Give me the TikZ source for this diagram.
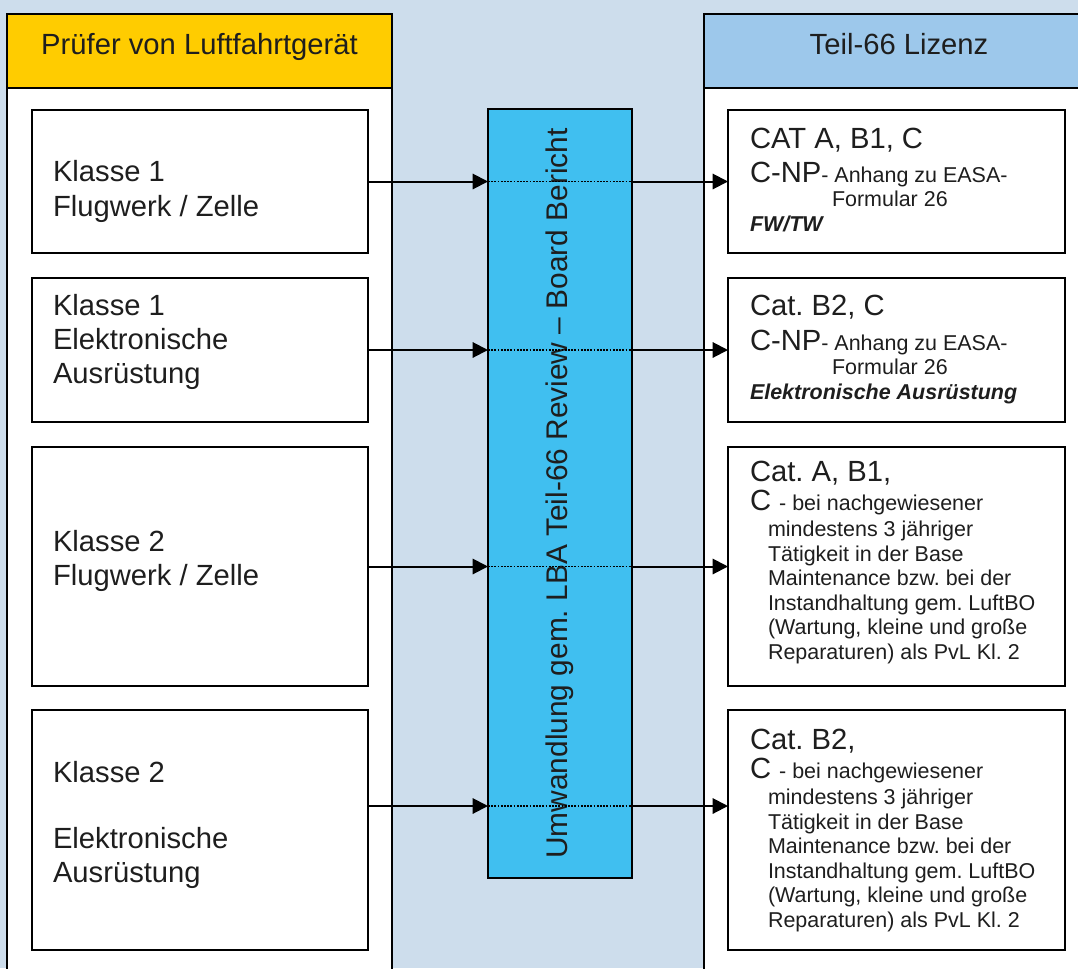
\documentclass[tikz,border=0pt]{standalone}
\usepackage{fontspec}
\setmainfont{Liberation Sans}
\usetikzlibrary{positioning,fit,arrows.meta}
\definecolor{bgblue}{RGB}{205,221,236}
\definecolor{mygold}{RGB}{255,204,0}
\definecolor{headblue}{RGB}{157,200,235}
\definecolor{barblue}{RGB}{64,191,240}
\definecolor{txtgray}{RGB}{30,30,30}
\newcommand{\bigtxt}{\fontsize{21.9}{26}\selectfont}
\newcommand{\bartxt}{\fontsize{22.4}{26}\selectfont}
\newcommand{\smalltxt}{\fontsize{16.1}{18}\selectfont}
\frenchspacing

\begin{document}
\begin{tikzpicture}[x=0.75pt,y=-0.75pt,
	every node/.style={inner sep=0pt,outer sep=0pt,text=txtgray},
	colbox/.style={draw,line width=0.9pt,fill=white},
	headbox/.style={draw,line width=1.1pt},
	classbox/.style={draw,line width=1.4pt,fill=white},
	barbox/.style={draw,line width=1.4pt,fill=barblue},
	bigtext/.style={anchor=base west,font=\bigtxt},
	smalltext/.style={anchor=base west,font=\smalltxt},
	arr/.style={line width=1.5pt,-{Triangle[length=11.5pt,width=11.5pt]}},
	dotline/.style={line width=1.4pt,densely dotted},
	]
	
	\clip (0,0) rectangle (1078,968);
	\fill[bgblue] (0,0) rectangle (1078,968);
	
	% the two columns
	\node[colbox,fit={(7,14) (392,975)}] (lcol) {};
	\node[headbox,fill=mygold,fit={(7,14) (392,88)}] (lhead) {};
	\node[font=\bigtxt,anchor=base] (lheadtxt) at (199.5,54) {Prüfer von Luftfahrtgerät};
	
	\node[colbox,fit={(704,14) (1095,975)}] (rcol) {};
	\node[headbox,fill=headblue,fit={(704,14) (1095,88)}] (rhead) {};
	\node[font=\bigtxt,anchor=base] (rheadtxt) at (899,54) {Teil-66 Lizenz};
	
	% the bar in the middle
	\node[barbox,fit={(488,109) (632,878)}] (bar) {};
	\node[font=\bartxt,rotate=90] (bartxt) at (bar.center) {Umwandlung gem. LBA Teil-66 Review – Board Bericht};
	
	% left boxes
	\node[classbox,fit={(32,110) (368,253)}] (l1) {};
	\node[classbox,fit={(32,278) (368,422)}] (l2) {};
	\node[classbox,fit={(32,447) (368,686)}] (l3) {};
	\node[classbox,fit={(32,710) (368,950)}] (l4) {};
	
	\node[bigtext] (l1a) at (53,181) {Klasse 1};
	\node[bigtext] (l1b) at (53,216) {Flugwerk / Zelle};
	\node[bigtext] (l2a) at (53,315) {Klasse 1};
	\node[bigtext] (l2b) at (53,349) {Elektronische};
	\node[bigtext] (l2c) at (53,383) {Ausrüstung};
	\node[bigtext] (l3a) at (53,551) {Klasse 2};
	\node[bigtext] (l3b) at (53,585) {Flugwerk / Zelle};
	\node[bigtext] (l4a) at (53,782) {Klasse 2};
	\node[bigtext] (l4b) at (53,848) {Elektronische};
	\node[bigtext] (l4c) at (53,882) {Ausrüstung};
	
	% right boxes
	\node[classbox,fit={(728,110) (1065,253)}] (r1) {};
	\node[classbox,fit={(728,278) (1065,422)}] (r2) {};
	\node[classbox,fit={(728,447) (1065,686)}] (r3) {};
	\node[classbox,fit={(728,710) (1065,950)}] (r4) {};
	
	\node[bigtext] (r1a) at (750,148) {CAT A, B1, C};
	\node[bigtext] (r1b) at (750,182) {C-NP{\smalltxt- Anhang zu EASA-}};
	\node[smalltext] (r1c) at (832,206) {Formular 26};
	\node[smalltext,font=\smalltxt\bfseries\itshape] (r1d) at (750,231) {FW/TW};
	
	\node[bigtext] (r2a) at (750,315) {Cat. B2, C};
	\node[bigtext] (r2b) at (750,350) {C-NP{\smalltxt- Anhang zu EASA-}};
	\node[smalltext] (r2c) at (832,374) {Formular 26};
	\node[smalltext,font=\smalltxt\bfseries\itshape] (r2d) at (750,399) {Elektronische Ausrüstung};
	
	\node[bigtext] (r3a) at (750,481) {Cat. A, B1,};
	\node[bigtext] (r3b) at (750,510) {C {\smalltxt - bei nachgewiesener}};
	\node[bigtext] (r4a) at (750,749) {Cat. B2,};
	\node[bigtext] (r4b) at (750,778) {C {\smalltxt - bei nachgewiesener}};
	\foreach \t [count=\i] in {mindestens 3 jähriger,Tätigkeit in der Base,Maintenance bzw. bei der,Instandhaltung gem. LuftBO,{(Wartung, kleine und große},Reparaturen) als PvL Kl. 2}
	{
		\node[smalltext] (r3l\i) at (768,512+\i*24.5) {\t};
		\node[smalltext] (r4l\i) at (768,780+\i*24.5) {\t};
	}
	
	% connectors
	\coordinate (a1) at (l1.east);
	\coordinate (a2) at (l2.east);
	\coordinate (a3) at (l3.east);
	\coordinate (a4) at ([yshift=18pt]l4.east);
	\foreach \i in {1,...,4}
	{
		\draw[arr] (a\i) -- (a\i -| bar.west);
		\draw[dotline] (a\i -| bar.west) -- (a\i -| bar.east);
		\draw[arr] (a\i -| bar.east) -- (a\i -| r\i.west);
	}
	
\end{tikzpicture}
\end{document}
